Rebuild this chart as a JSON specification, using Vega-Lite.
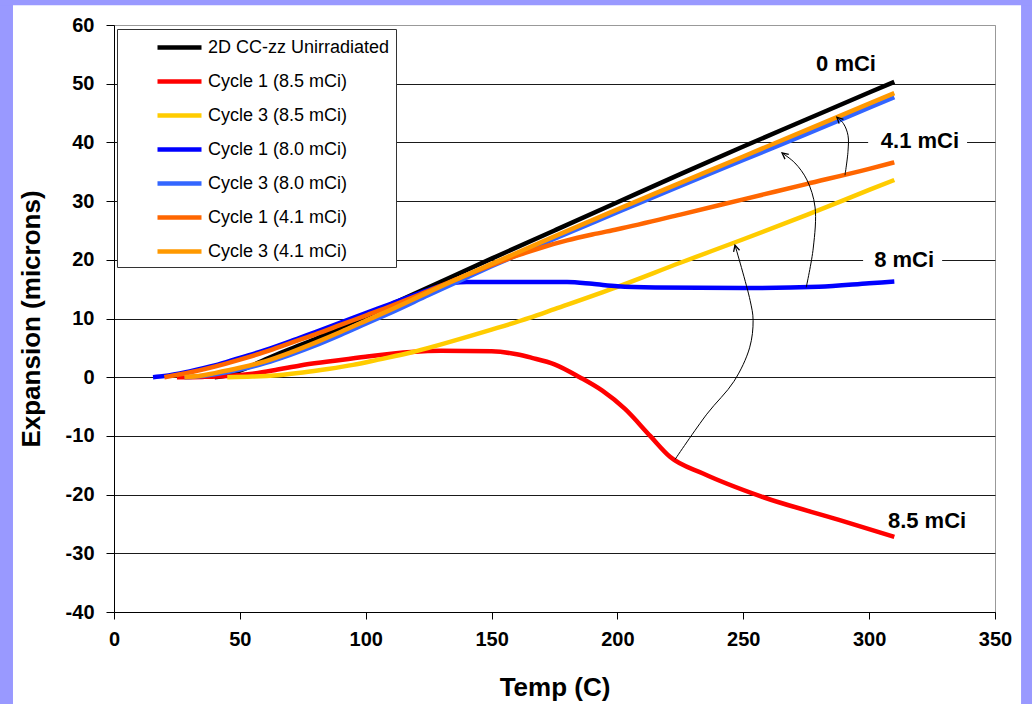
{
  "$schema": "https://vega.github.io/schema/vega-lite/v6.json",
  "width": 881,
  "height": 587,
  "autosize": {"type": "none"},
  "padding": {"left": 114, "top": 25, "right": 37, "bottom": 92},
  "background": "white",
  "config": {
    "view": {"stroke": "#999999", "strokeWidth": 1},
    "font": "Liberation Sans"
  },
  "datasets": {
    "curves": [
      {"s": "2D CC-zz Unirradiated", "t": 40, "e": 0},
      {"s": "2D CC-zz Unirradiated", "t": 45, "e": 0.3},
      {"s": "2D CC-zz Unirradiated", "t": 50, "e": 1.1},
      {"s": "2D CC-zz Unirradiated", "t": 55, "e": 2.0},
      {"s": "2D CC-zz Unirradiated", "t": 60, "e": 3.0},
      {"s": "2D CC-zz Unirradiated", "t": 66, "e": 4.1},
      {"s": "2D CC-zz Unirradiated", "t": 70, "e": 4.8},
      {"s": "2D CC-zz Unirradiated", "t": 80, "e": 6.5},
      {"s": "2D CC-zz Unirradiated", "t": 90, "e": 8.4},
      {"s": "2D CC-zz Unirradiated", "t": 100, "e": 10.4},
      {"s": "2D CC-zz Unirradiated", "t": 125, "e": 15.3},
      {"s": "2D CC-zz Unirradiated", "t": 150, "e": 20.2},
      {"s": "2D CC-zz Unirradiated", "t": 175, "e": 25.0},
      {"s": "2D CC-zz Unirradiated", "t": 200, "e": 29.8},
      {"s": "2D CC-zz Unirradiated", "t": 225, "e": 34.6},
      {"s": "2D CC-zz Unirradiated", "t": 250, "e": 39.3},
      {"s": "2D CC-zz Unirradiated", "t": 275, "e": 43.9},
      {"s": "2D CC-zz Unirradiated", "t": 300, "e": 48.5},
      {"s": "2D CC-zz Unirradiated", "t": 310, "e": 50.3},

      {"s": "Cycle 1 (8.5 mCi)", "t": 25, "e": 0},
      {"s": "Cycle 1 (8.5 mCi)", "t": 35, "e": 0.05},
      {"s": "Cycle 1 (8.5 mCi)", "t": 45, "e": 0.2},
      {"s": "Cycle 1 (8.5 mCi)", "t": 55, "e": 0.6},
      {"s": "Cycle 1 (8.5 mCi)", "t": 65, "e": 1.3},
      {"s": "Cycle 1 (8.5 mCi)", "t": 74, "e": 2.0},
      {"s": "Cycle 1 (8.5 mCi)", "t": 86, "e": 2.7},
      {"s": "Cycle 1 (8.5 mCi)", "t": 100, "e": 3.5},
      {"s": "Cycle 1 (8.5 mCi)", "t": 118, "e": 4.3},
      {"s": "Cycle 1 (8.5 mCi)", "t": 130, "e": 4.5},
      {"s": "Cycle 1 (8.5 mCi)", "t": 150, "e": 4.4},
      {"s": "Cycle 1 (8.5 mCi)", "t": 160, "e": 3.9},
      {"s": "Cycle 1 (8.5 mCi)", "t": 166, "e": 3.3},
      {"s": "Cycle 1 (8.5 mCi)", "t": 175, "e": 2.2},
      {"s": "Cycle 1 (8.5 mCi)", "t": 185, "e": 0.0},
      {"s": "Cycle 1 (8.5 mCi)", "t": 194, "e": -2.3},
      {"s": "Cycle 1 (8.5 mCi)", "t": 203, "e": -5.4},
      {"s": "Cycle 1 (8.5 mCi)", "t": 213, "e": -10.0},
      {"s": "Cycle 1 (8.5 mCi)", "t": 221, "e": -13.6},
      {"s": "Cycle 1 (8.5 mCi)", "t": 234, "e": -16.4},
      {"s": "Cycle 1 (8.5 mCi)", "t": 257, "e": -20.3},
      {"s": "Cycle 1 (8.5 mCi)", "t": 288, "e": -24.3},
      {"s": "Cycle 1 (8.5 mCi)", "t": 310, "e": -27.2},

      {"s": "Cycle 3 (8.5 mCi)", "t": 45, "e": 0},
      {"s": "Cycle 3 (8.5 mCi)", "t": 55, "e": 0.1},
      {"s": "Cycle 3 (8.5 mCi)", "t": 65, "e": 0.35},
      {"s": "Cycle 3 (8.5 mCi)", "t": 75, "e": 0.8},
      {"s": "Cycle 3 (8.5 mCi)", "t": 85, "e": 1.4},
      {"s": "Cycle 3 (8.5 mCi)", "t": 95, "e": 2.1},
      {"s": "Cycle 3 (8.5 mCi)", "t": 105, "e": 3.0},
      {"s": "Cycle 3 (8.5 mCi)", "t": 118, "e": 4.2},
      {"s": "Cycle 3 (8.5 mCi)", "t": 130, "e": 5.6},
      {"s": "Cycle 3 (8.5 mCi)", "t": 150, "e": 8.1},
      {"s": "Cycle 3 (8.5 mCi)", "t": 165, "e": 10.1},
      {"s": "Cycle 3 (8.5 mCi)", "t": 175, "e": 11.6},
      {"s": "Cycle 3 (8.5 mCi)", "t": 200, "e": 15.4},
      {"s": "Cycle 3 (8.5 mCi)", "t": 225, "e": 19.5},
      {"s": "Cycle 3 (8.5 mCi)", "t": 250, "e": 23.5},
      {"s": "Cycle 3 (8.5 mCi)", "t": 275, "e": 27.6},
      {"s": "Cycle 3 (8.5 mCi)", "t": 300, "e": 31.9},
      {"s": "Cycle 3 (8.5 mCi)", "t": 310, "e": 33.6},

      {"s": "Cycle 1 (8.0 mCi)", "t": 15.5, "e": 0},
      {"s": "Cycle 1 (8.0 mCi)", "t": 20, "e": 0.2},
      {"s": "Cycle 1 (8.0 mCi)", "t": 30, "e": 1.0},
      {"s": "Cycle 1 (8.0 mCi)", "t": 40, "e": 2.0},
      {"s": "Cycle 1 (8.0 mCi)", "t": 50, "e": 3.3},
      {"s": "Cycle 1 (8.0 mCi)", "t": 60, "e": 4.6},
      {"s": "Cycle 1 (8.0 mCi)", "t": 70, "e": 6.1},
      {"s": "Cycle 1 (8.0 mCi)", "t": 80, "e": 7.7},
      {"s": "Cycle 1 (8.0 mCi)", "t": 90, "e": 9.3},
      {"s": "Cycle 1 (8.0 mCi)", "t": 100, "e": 10.9},
      {"s": "Cycle 1 (8.0 mCi)", "t": 110, "e": 12.5},
      {"s": "Cycle 1 (8.0 mCi)", "t": 120, "e": 14.1},
      {"s": "Cycle 1 (8.0 mCi)", "t": 130, "e": 15.6},
      {"s": "Cycle 1 (8.0 mCi)", "t": 135, "e": 16.1},
      {"s": "Cycle 1 (8.0 mCi)", "t": 140, "e": 16.2},
      {"s": "Cycle 1 (8.0 mCi)", "t": 160, "e": 16.2},
      {"s": "Cycle 1 (8.0 mCi)", "t": 180, "e": 16.2},
      {"s": "Cycle 1 (8.0 mCi)", "t": 190, "e": 15.9},
      {"s": "Cycle 1 (8.0 mCi)", "t": 200, "e": 15.5},
      {"s": "Cycle 1 (8.0 mCi)", "t": 215, "e": 15.3},
      {"s": "Cycle 1 (8.0 mCi)", "t": 250, "e": 15.2},
      {"s": "Cycle 1 (8.0 mCi)", "t": 280, "e": 15.4},
      {"s": "Cycle 1 (8.0 mCi)", "t": 300, "e": 16.0},
      {"s": "Cycle 1 (8.0 mCi)", "t": 310, "e": 16.3},

      {"s": "Cycle 3 (8.0 mCi)", "t": 28, "e": 0},
      {"s": "Cycle 3 (8.0 mCi)", "t": 35, "e": 0.2},
      {"s": "Cycle 3 (8.0 mCi)", "t": 40, "e": 0.5},
      {"s": "Cycle 3 (8.0 mCi)", "t": 50, "e": 1.3},
      {"s": "Cycle 3 (8.0 mCi)", "t": 60, "e": 2.4},
      {"s": "Cycle 3 (8.0 mCi)", "t": 70, "e": 3.8},
      {"s": "Cycle 3 (8.0 mCi)", "t": 80, "e": 5.4},
      {"s": "Cycle 3 (8.0 mCi)", "t": 90, "e": 7.2},
      {"s": "Cycle 3 (8.0 mCi)", "t": 100, "e": 9.1},
      {"s": "Cycle 3 (8.0 mCi)", "t": 110, "e": 11.0},
      {"s": "Cycle 3 (8.0 mCi)", "t": 125, "e": 14.0},
      {"s": "Cycle 3 (8.0 mCi)", "t": 150, "e": 18.9},
      {"s": "Cycle 3 (8.0 mCi)", "t": 175, "e": 23.6},
      {"s": "Cycle 3 (8.0 mCi)", "t": 200, "e": 28.1},
      {"s": "Cycle 3 (8.0 mCi)", "t": 225, "e": 32.6},
      {"s": "Cycle 3 (8.0 mCi)", "t": 250, "e": 37.0},
      {"s": "Cycle 3 (8.0 mCi)", "t": 275, "e": 41.4},
      {"s": "Cycle 3 (8.0 mCi)", "t": 300, "e": 45.9},
      {"s": "Cycle 3 (8.0 mCi)", "t": 310, "e": 47.7},

      {"s": "Cycle 1 (4.1 mCi)", "t": 20, "e": 0},
      {"s": "Cycle 1 (4.1 mCi)", "t": 30, "e": 0.8},
      {"s": "Cycle 1 (4.1 mCi)", "t": 40, "e": 1.8},
      {"s": "Cycle 1 (4.1 mCi)", "t": 50, "e": 3.0},
      {"s": "Cycle 1 (4.1 mCi)", "t": 60, "e": 4.3},
      {"s": "Cycle 1 (4.1 mCi)", "t": 70, "e": 5.8},
      {"s": "Cycle 1 (4.1 mCi)", "t": 80, "e": 7.3},
      {"s": "Cycle 1 (4.1 mCi)", "t": 90, "e": 8.9},
      {"s": "Cycle 1 (4.1 mCi)", "t": 100, "e": 10.5},
      {"s": "Cycle 1 (4.1 mCi)", "t": 110, "e": 12.1},
      {"s": "Cycle 1 (4.1 mCi)", "t": 120, "e": 13.8},
      {"s": "Cycle 1 (4.1 mCi)", "t": 130, "e": 15.6},
      {"s": "Cycle 1 (4.1 mCi)", "t": 140, "e": 17.4},
      {"s": "Cycle 1 (4.1 mCi)", "t": 150, "e": 19.1},
      {"s": "Cycle 1 (4.1 mCi)", "t": 160, "e": 20.7},
      {"s": "Cycle 1 (4.1 mCi)", "t": 170, "e": 22.1},
      {"s": "Cycle 1 (4.1 mCi)", "t": 180, "e": 23.3},
      {"s": "Cycle 1 (4.1 mCi)", "t": 190, "e": 24.3},
      {"s": "Cycle 1 (4.1 mCi)", "t": 200, "e": 25.2},
      {"s": "Cycle 1 (4.1 mCi)", "t": 225, "e": 27.7},
      {"s": "Cycle 1 (4.1 mCi)", "t": 250, "e": 30.3},
      {"s": "Cycle 1 (4.1 mCi)", "t": 275, "e": 32.9},
      {"s": "Cycle 1 (4.1 mCi)", "t": 300, "e": 35.5},
      {"s": "Cycle 1 (4.1 mCi)", "t": 310, "e": 36.6},

      {"s": "Cycle 3 (4.1 mCi)", "t": 28, "e": 0},
      {"s": "Cycle 3 (4.1 mCi)", "t": 35, "e": 0.3},
      {"s": "Cycle 3 (4.1 mCi)", "t": 40, "e": 0.7},
      {"s": "Cycle 3 (4.1 mCi)", "t": 50, "e": 1.6},
      {"s": "Cycle 3 (4.1 mCi)", "t": 60, "e": 2.7},
      {"s": "Cycle 3 (4.1 mCi)", "t": 70, "e": 4.2},
      {"s": "Cycle 3 (4.1 mCi)", "t": 80, "e": 5.9},
      {"s": "Cycle 3 (4.1 mCi)", "t": 90, "e": 7.7},
      {"s": "Cycle 3 (4.1 mCi)", "t": 100, "e": 9.6},
      {"s": "Cycle 3 (4.1 mCi)", "t": 110, "e": 11.5},
      {"s": "Cycle 3 (4.1 mCi)", "t": 125, "e": 14.5},
      {"s": "Cycle 3 (4.1 mCi)", "t": 150, "e": 19.3},
      {"s": "Cycle 3 (4.1 mCi)", "t": 175, "e": 24.0},
      {"s": "Cycle 3 (4.1 mCi)", "t": 200, "e": 28.6},
      {"s": "Cycle 3 (4.1 mCi)", "t": 225, "e": 33.1},
      {"s": "Cycle 3 (4.1 mCi)", "t": 250, "e": 37.6},
      {"s": "Cycle 3 (4.1 mCi)", "t": 275, "e": 42.1},
      {"s": "Cycle 3 (4.1 mCi)", "t": 300, "e": 46.6},
      {"s": "Cycle 3 (4.1 mCi)", "t": 310, "e": 48.4}
    ],
    "labels": [
      {"label": "0 mCi", "t": 290.8, "e": 53.4},
      {"label": "4.1 mCi", "t": 320.2, "e": 40.2},
      {"label": "8 mCi", "t": 313.9, "e": 19.9},
      {"label": "8.5 mCi", "t": 323, "e": -24.5}
    ],
    "boxes": [
      {"t1": 299.6, "t2": 338.9, "e1": 38.3, "e2": 42.1},
      {"t1": 297.6, "t2": 329, "e1": 18.0, "e2": 21.8}
    ],
    "frame": [
      {"t1": -60, "t2": -40.13, "e1": -70, "e2": 70},
      {"t1": 360.35, "t2": 400, "e1": -70, "e2": 70},
      {"t1": -60, "t2": 400, "e1": 63.37, "e2": 70}
    ],
    "arrows": [
      {"a": "a1", "i": 0, "t": 290.4, "e": 34.4},
      {"a": "a1", "i": 1, "t": 291.6, "e": 38.5},
      {"a": "a1", "i": 2, "t": 291.6, "e": 41.2},
      {"a": "a1", "i": 3, "t": 289.8, "e": 43.2},
      {"a": "a1", "i": 4, "t": 287.2, "e": 44.3},
      {"a": "a2", "i": 0, "t": 275.0, "e": 15.3},
      {"a": "a2", "i": 1, "t": 277.8, "e": 22.0},
      {"a": "a2", "i": 2, "t": 278.5, "e": 29.0},
      {"a": "a2", "i": 3, "t": 275.3, "e": 33.6},
      {"a": "a2", "i": 4, "t": 270.5, "e": 36.5},
      {"a": "a2", "i": 5, "t": 265.4, "e": 38.2},
      {"a": "a3", "i": 0, "t": 222.9, "e": -14.0},
      {"a": "a3", "i": 1, "t": 235.5, "e": -6.3},
      {"a": "a3", "i": 2, "t": 246.3, "e": -0.7},
      {"a": "a3", "i": 3, "t": 252.5, "e": 5.0},
      {"a": "a3", "i": 4, "t": 253.9, "e": 9.7},
      {"a": "a3", "i": 5, "t": 252.7, "e": 13.1},
      {"a": "a3", "i": 6, "t": 246.7, "e": 22.5}
    ],
    "heads": [
      {"a": "a1", "t": 287.2, "e": 44.3},
      {"a": "a2", "t": 265.4, "e": 38.2},
      {"a": "a3", "t": 246.7, "e": 22.5}
    ],
    "zero": [{"e": 0}]
  },
  "encoding": {
    "x": {
      "field": "t", "type": "quantitative",
      "scale": {"domain": [0, 350], "nice": false, "zero": false},
      "axis": {
        "title": "Temp (C)", "values": [0, 50, 100, 150, 200, 250, 300, 350],
        "grid": false, "tickSize": 7, "tickColor": "black", "tickWidth": 1,
        "domainColor": "black", "domainWidth": 1,
        "labelFont": "Liberation Sans", "labelFontSize": 20, "labelFontWeight": "bold", "labelColor": "black",
        "labelPadding": 10, "labelFlush": false,
        "titleFont": "Liberation Sans", "titleFontSize": 26, "titleFontWeight": "bold", "titleColor": "black",
        "titleBaseline": "top", "titleY": 62
      }
    },
    "y": {
      "field": "e", "type": "quantitative",
      "scale": {"domain": [-40, 60], "nice": false, "zero": false},
      "axis": {
        "title": "Expansion (microns)", "values": [-40, -30, -20, -10, 0, 10, 20, 30, 40, 50, 60],
        "labelExpr": "datum.value < 0 ? '-' + abs(datum.value) : '' + datum.value",
        "grid": true, "gridColor": {"condition": {"test": "datum.value == 60", "value": "#999999"}, "value": "#1a1a1a"}, "gridWidth": 1.2,
        "tickSize": 8, "tickColor": "black", "tickWidth": 1,
        "domainColor": "black", "domainWidth": 1,
        "labelFont": "Liberation Sans", "labelFontSize": 20, "labelFontWeight": "bold", "labelColor": "black",
        "labelPadding": 12, "labelFlush": false,
        "titleFont": "Liberation Sans", "titleFontSize": 26, "titleFontWeight": "bold", "titleColor": "black",
        "titleBaseline": "middle", "titleX": -83
      }
    }
  },
  "layer": [
    {
      "data": {"name": "frame"},
      "mark": {"type": "rect", "fill": "#9999FF", "stroke": null},
      "encoding": {
        "x": {"field": "t1", "type": "quantitative"},
        "x2": {"field": "t2"},
        "y": {"field": "e1", "type": "quantitative"},
        "y2": {"field": "e2"}
      }
    },
    {
      "data": {"name": "zero"},
      "mark": {"type": "rule", "color": "black", "strokeWidth": 2.2},
      "encoding": {"y": {"field": "e", "type": "quantitative"}}
    },
    {
      "data": {"name": "boxes"},
      "mark": {"type": "rect", "fill": "white"},
      "encoding": {
        "x": {"field": "t1", "type": "quantitative"},
        "x2": {"field": "t2"},
        "y": {"field": "e1", "type": "quantitative"},
        "y2": {"field": "e2"}
      }
    },
    {
      "data": {"name": "curves"},
      "mark": {"type": "line", "interpolate": "monotone", "strokeCap": "butt"},
      "encoding": {
        "color": {
          "field": "s", "type": "nominal",
          "scale": {
            "domain": ["2D CC-zz Unirradiated", "Cycle 1 (8.5 mCi)", "Cycle 3 (8.5 mCi)", "Cycle 1 (8.0 mCi)", "Cycle 3 (8.0 mCi)", "Cycle 1 (4.1 mCi)", "Cycle 3 (4.1 mCi)"],
            "range": ["#000000", "#FF0000", "#FFCC00", "#0000FF", "#3366FF", "#FF6600", "#FF9900"]
          },
          "legend": {
            "title": null, "orient": "none", "legendX": 3, "legendY": 4,
            "symbolType": "M-2.2,0L2.2,0", "symbolSize": 400, "symbolOffset": 44,
            "labelOffset": 16, "labelFont": "Liberation Sans", "labelFontSize": 18, "labelColor": "black", "labelLimit": 400,
            "padding": 6, "rowPadding": 12,
            "strokeColor": "#333333", "fillColor": "white"
          }
        },
        "strokeWidth": {
          "field": "s", "type": "nominal",
          "scale": {
            "domain": ["2D CC-zz Unirradiated", "Cycle 1 (8.5 mCi)", "Cycle 3 (8.5 mCi)", "Cycle 1 (8.0 mCi)", "Cycle 3 (8.0 mCi)", "Cycle 1 (4.1 mCi)", "Cycle 3 (4.1 mCi)"],
            "range": [4.5, 4.5, 3, 4.5, 3, 3, 3]
          }
        }
      }
    },
    {
      "data": {"name": "arrows"},
      "mark": {"type": "line", "interpolate": "catmull-rom", "color": "black", "strokeWidth": 1},
      "encoding": {
        "detail": {"field": "a"},
        "order": {"field": "i", "type": "quantitative"}
      }
    },
    {
      "data": {"name": "heads"},
      "transform": [{"filter": "datum.a == 'a1'"}],
      "mark": {"type": "point", "shape": "M-0.5,1L0,0L0.5,1", "filled": false, "stroke": "black", "strokeWidth": 1.3, "size": 150, "angle": 315, "opacity": 1},
      "encoding": {}
    },
    {
      "data": {"name": "heads"},
      "transform": [{"filter": "datum.a == 'a2'"}],
      "mark": {"type": "point", "shape": "M-0.5,1L0,0L0.5,1", "filled": false, "stroke": "black", "strokeWidth": 1.3, "size": 150, "angle": 308, "opacity": 1},
      "encoding": {}
    },
    {
      "data": {"name": "heads"},
      "transform": [{"filter": "datum.a == 'a3'"}],
      "mark": {"type": "point", "shape": "M-0.5,1L0,0L0.5,1", "filled": false, "stroke": "black", "strokeWidth": 1.3, "size": 150, "angle": 345, "opacity": 1},
      "encoding": {}
    },
    {
      "data": {"name": "labels"},
      "mark": {"type": "text", "font": "Liberation Sans", "fontSize": 22, "fontWeight": "bold", "color": "black", "align": "center", "baseline": "middle"},
      "encoding": {"text": {"field": "label"}}
    }
  ]
}
